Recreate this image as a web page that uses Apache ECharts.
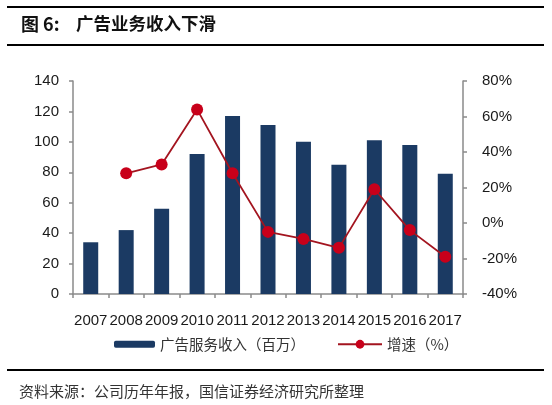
<!DOCTYPE html>
<html>
<head>
<meta charset="utf-8">
<script src="https://cdn.jsdelivr.net/npm/echarts@6/dist/echarts.min.js"></script>
<style>
html,body{margin:0;padding:0;background:#fff;}
#c{width:552px;height:405px;}
</style>
</head>
<body>
<div id="c"></div>
<script>
const years = ['2007','2008','2009','2010','2011','2012','2013','2014','2015','2016','2017'];
const revenue = [34, 42, 56, 92, 117, 111, 100, 85, 101, 98, 79];
const growth = [null, 28, 33, 64, 28, -5, -9, -14, 19, -4, -19];
const leftTicks = {min: 0, max: 140, interval: 20};
const rightTicks = {min: -40, max: 80, interval: 20};
const barName = '广告服务收入（百万）';
const lineName = '增速（%）';

const numFont = '"Liberation Sans", Arial, sans-serif';
const cjkFont = '"Noto Sans CJK SC", "Liberation Sans", sans-serif';
const axisColor = '#8a8a8a';

const chart = echarts.init(document.getElementById('c'), null, {renderer: 'canvas'});
chart.setOption({
  animation: false,
  backgroundColor: '#ffffff',
  grid: {left: 73, right: 89, top: 81, bottom: 111, containLabel: false},
  legend: [
    {
      data: [barName], left: 109, top: 332,
      itemWidth: 41, itemHeight: 7,
      textStyle: {fontFamily: cjkFont, fontSize: 14.5, color: '#333'}
    },
    {
      data: [lineName], left: 332, top: 332,
      itemWidth: 44, itemHeight: 11,
      textStyle: {fontFamily: cjkFont, fontSize: 14.5, color: '#333'}
    }
  ],
  xAxis: {
    type: 'category',
    data: years,
    axisLine: {lineStyle: {color: axisColor, width: 1.5}},
    axisTick: {show: true, alignWithLabel: false, length: 4, lineStyle: {color: axisColor, width: 1.5}},
    axisLabel: {margin: 19, fontFamily: numFont, fontSize: 15, color: '#1a1a1a', interval: 0},
    splitLine: {show: false}
  },
  yAxis: [
    {
      type: 'value', position: 'left',
      min: leftTicks.min, max: leftTicks.max, interval: leftTicks.interval,
      axisLine: {show: true, lineStyle: {color: axisColor, width: 1.5}},
      axisTick: {show: true, length: 4, lineStyle: {color: axisColor, width: 1.5}},
      axisLabel: {margin: 14, fontFamily: numFont, fontSize: 15, color: '#1a1a1a'},
      splitLine: {show: false}
    },
    {
      type: 'value', position: 'right',
      min: rightTicks.min, max: rightTicks.max, interval: rightTicks.interval,
      axisLine: {show: true, lineStyle: {color: axisColor, width: 1.5}},
      axisTick: {show: true, length: 4, lineStyle: {color: axisColor, width: 1.5}},
      axisLabel: {margin: 19, fontFamily: numFont, fontSize: 15, color: '#1a1a1a', formatter: '{value}%'},
      splitLine: {show: false}
    }
  ],
  series: [
    {
      name: barName, type: 'bar', data: revenue, yAxisIndex: 0,
      barWidth: 15,
      itemStyle: {color: '#1b3a63'}
    },
    {
      name: lineName, type: 'line', data: growth, yAxisIndex: 1,
      symbol: 'circle', symbolSize: 12,
      lineStyle: {color: '#a3141f', width: 1.8},
      itemStyle: {color: '#c8001a', borderWidth: 0},
      connectNulls: false
    }
  ],
  graphic: [
    {type: 'rect', shape: {x: 7, y: 6, width: 537, height: 2}, style: {fill: '#000'}},
    {type: 'rect', shape: {x: 7, y: 44, width: 537, height: 2}, style: {fill: '#000'}},
    {type: 'rect', shape: {x: 7, y: 369, width: 537, height: 2}, style: {fill: '#000'}},
    {type: 'text', left: 21, top: 15, style: {text: '图 6:', font: 'bold 18px ' + cjkFont, fill: '#111'}},
    {type: 'text', left: 76, top: 15, style: {text: '广告业务收入下滑', font: 'bold 17.5px ' + cjkFont, fill: '#111'}},
    {type: 'text', left: 19, top: 384, style: {text: '资料来源：公司历年年报，国信证券经济研究所整理', font: '15px ' + cjkFont, fill: '#333'}}
  ]
});
</script>
</body>
</html>
